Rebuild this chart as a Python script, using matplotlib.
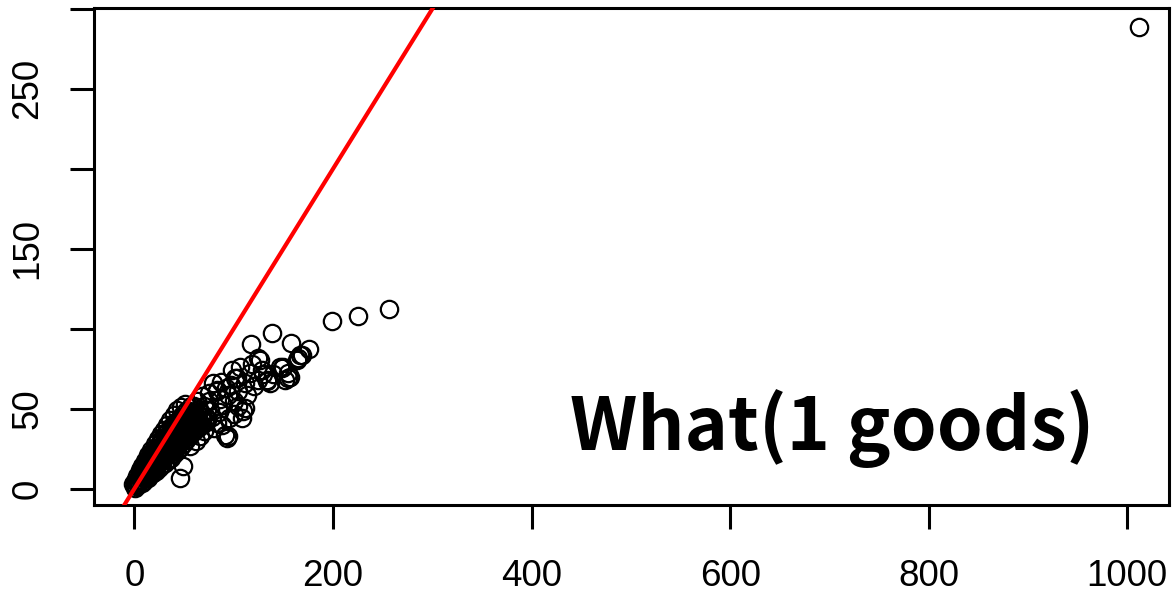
import matplotlib
matplotlib.use("Agg")
import matplotlib.pyplot as plt

# Observed values: estimated (x) vs. recorded (y)
x_vals = [
    1.0, 1.4, 0.3,
    3.8, 4.3, 3.6, 2.5,
    7.2, 6.8, 7.4, 6.6, 5.4,
    10.1, 9.7, 10.4, 9.9, 10.2, 8.6,
    13.2, 12.8, 13.5, 12.9, 13.3, 12.6, 11.4,
    16.1, 15.7, 16.4, 15.9, 16.3, 15.6, 14.8,
    19.2, 18.8, 19.5, 18.9, 19.3, 18.7, 18.1,
    22.1, 21.8, 22.4, 21.9, 22.3, 21.7, 21.2,
    25.2, 24.8, 25.5, 24.9, 25.3, 24.7, 24.4,
    28.1, 27.7, 28.4, 27.9, 28.3, 27.8, 28.2, 27.6,
    31.2, 30.8, 31.5, 30.9, 31.3, 30.7, 31.1, 30.6,
    34.1, 33.7, 34.4, 33.9, 34.3, 33.8, 34.2, 33.6,
    37.2, 36.8, 37.5, 36.9, 37.3, 36.7, 37.1, 36.6,
    40.1, 39.7, 40.4, 39.9, 40.3, 39.8, 40.2, 39.6,
    43.2, 42.8, 43.5, 42.9, 43.3, 42.7, 43.1, 42.6,
    46.1, 45.7, 46.4, 45.9, 46.3, 45.8, 46.2, 45.6,
    49.2, 48.8, 49.5, 48.9, 49.3, 48.7, 49.1, 48.6,
    52.1, 51.7, 52.4, 51.9, 52.3, 51.8, 52.2, 51.6,
    55.2, 54.8, 55.5, 54.9, 55.3, 54.7, 55.1,
    58.1, 57.7, 58.4, 57.9, 58.3, 57.8,
    61.2, 60.8, 61.5, 60.9, 61.3,
    64.1, 63.7, 64.4, 63.9,
    68.2, 67.8, 68.4,
    72.1, 71.7,
    45.9, 49.2, 56.0, 92.9, 94.6, 91.2, 82.9, 72.8, 76.1, 72.8,
    67.7, 79.4, 82.9, 82.9, 89.5, 94.6, 104.6, 108.1, 111.4, 109.7,
    113.1, 111.4, 101.3, 103.0, 98.0, 106.4, 116.4, 117.4, 124.8, 126.5,
    128.2, 133.3, 133.3, 136.6, 138.9, 146.7, 148.4, 150.0, 151.7, 155.0,
    155.0, 156.8, 157.5, 163.5, 165.1, 166.8, 168.5, 175.5, 199.4, 225.3,
    256.5, 1012.0,
    65.0, 70.0, 75.0, 78.0, 85.0, 88.0, 62.0, 66.0, 70.0, 80.0,
    86.0, 92.0, 97.0, 100.0, 104.0, 120.0, 124.0, 130.0, 140.0, 118.0,
    60.0, 63.0, 57.0, 75.0, 87.0, 95.0, 100.0,
    -1.5, 0.8, 3.0, 5.5, 8.0, 11.0, 14.0, 17.0, 20.5, 24.0,
    26.5, 30.0, 33.0, 36.0, 39.5, 43.0, 47.0, 51.0,
]
y_vals = [
    0.5, 1.8, 2.6,
    2.1, 3.9, 5.6, 4.2,
    3.6, 5.4, 7.3, 8.9, 9.8,
    5.1, 6.9, 8.8, 10.6, 12.1, 13.0,
    6.8, 8.9, 10.7, 12.6, 14.4, 15.9, 16.6,
    8.5, 10.6, 12.8, 14.9, 16.7, 18.6, 19.9,
    9.6, 12.4, 14.6, 16.9, 19.0, 21.2, 23.0,
    11.3, 14.1, 16.5, 18.8, 21.0, 23.4, 25.6,
    12.9, 16.0, 18.4, 20.7, 23.1, 25.4, 27.8,
    14.6, 17.8, 20.2, 22.6, 25.0, 27.4, 29.9, 31.6,
    16.2, 19.6, 22.1, 24.5, 26.9, 29.4, 31.8, 34.0,
    17.9, 21.4, 23.9, 26.4, 28.9, 31.3, 33.8, 36.3,
    19.5, 23.2, 25.8, 28.3, 30.8, 33.3, 35.9, 38.4,
    21.8, 25.0, 27.6, 30.2, 32.7, 35.3, 37.8, 40.5,
    23.6, 26.8, 29.4, 32.1, 34.7, 37.2, 39.9, 42.3,
    25.7, 28.9, 31.5, 34.0, 36.6, 39.2, 41.7, 44.2,
    27.9, 31.0, 33.6, 36.2, 38.8, 41.4, 43.9, 46.4,
    30.5, 33.2, 35.9, 38.5, 41.0, 43.6, 46.1, 48.6,
    32.8, 35.5, 38.1, 40.7, 43.2, 45.8, 48.5,
    34.9, 37.6, 40.3, 43.0, 45.6, 48.1,
    36.6, 39.4, 42.1, 44.8, 47.3,
    38.2, 41.2, 44.0, 46.5,
    39.8, 43.1, 46.4,
    41.5, 44.9,
    6.7, 13.9, 26.4, 31.7, 32.7, 33.5, 41.1, 43.1, 49.4, 49.4,
    57.7, 66.1, 61.9, 60.8, 52.5, 58.8, 60.8, 44.2, 50.4, 48.3,
    58.8, 66.1, 69.2, 69.2, 74.4, 76.4, 72.3, 90.4, 81.7, 80.6,
    74.4, 68.1, 67.1, 66.1, 97.3, 76.4, 75.4, 76.0, 68.1, 72.3,
    69.2, 69.6, 91.0, 80.6, 81.7, 83.8, 83.8, 87.4, 105.0, 108.0,
    112.3, 289.0,
    50.0, 52.0, 55.0, 45.0, 48.0, 40.0, 30.0, 33.0, 36.0, 38.0,
    56.0, 63.0, 65.0, 55.0, 52.0, 64.0, 68.0, 72.0, 72.0, 78.0,
    52.0, 55.0, 52.0, 60.0, 67.0, 44.0, 47.0,
    3.0, 5.0, 8.0, 11.5, 14.5, 17.5, 21.0, 24.5, 28.0, 31.0,
    34.0, 37.0, 40.0, 43.0, 46.0, 49.0, 51.0, 53.0,
]

x_ticks = [0, 200, 400, 600, 800, 1000]
y_ticks = [0, 50, 100, 150, 200, 250, 300]
y_tick_labels = ["0", "50", "", "150", "", "250", ""]
annotation = "What(1 goods)"

W, H, DPI = 1173, 595, 100
fig = plt.figure(figsize=(W / DPI, H / DPI), dpi=DPI)
fig.patch.set_facecolor("white")
ax = fig.add_axes([94 / W, (H - 505) / H, (1169 - 94) / W, (505 - 8) / H])

ax.plot(x_vals, y_vals, linestyle="none", marker="o", markersize=12.5,
        markerfacecolor="none", markeredgecolor="black", markeredgewidth=1.6,
        zorder=2)

# identity reference line y = x
ax.axline((0, 0), slope=1, color="#ff0000", linewidth=3.0, zorder=3)

ax.set_xlim(-40.7, 1042)
ax.set_ylim(-10.2, 300.6)

ax.set_xticks(x_ticks)
ax.set_xticklabels([str(t) for t in x_ticks])
ax.set_yticks(y_ticks)
ax.set_yticklabels(y_tick_labels, rotation=90, va="center")

for lab in ax.get_xticklabels() + ax.get_yticklabels():
    lab.set_fontfamily("Liberation Sans")
    lab.set_fontsize(26.5)

ax.tick_params(axis="both", direction="out", length=17, width=2.2,
               color="black")
ax.tick_params(axis="x", pad=22)
ax.tick_params(axis="y", pad=18)

for sp in ax.spines.values():
    sp.set_linewidth(2.2)
    sp.set_color("black")

ax.text(439, 24.4, annotation, fontsize=53, fontweight="bold",
        family=["Noto Sans CJK JP", "DejaVu Sans"], ha="left",
        va="baseline", color="black", zorder=4)

fig.savefig("out.png", dpi=DPI)
